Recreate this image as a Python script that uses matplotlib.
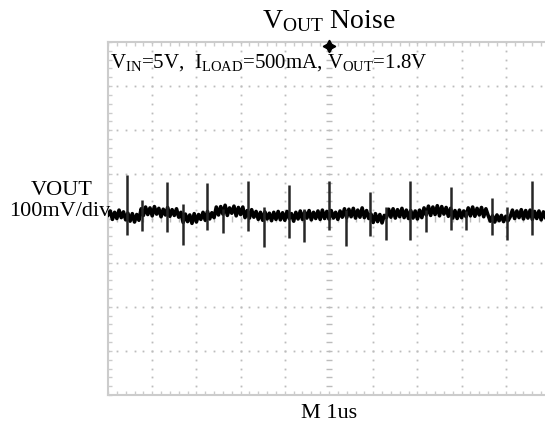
import numpy as np
import matplotlib
matplotlib.use("Agg")
import matplotlib.pyplot as plt

plt.rcParams["font.family"] = ["Liberation Serif", "DejaVu Serif"]
plt.rcParams["mathtext.fontset"] = "custom"
plt.rcParams["mathtext.rm"] = "Liberation Serif"
plt.rcParams["mathtext.it"] = "Liberation Serif:italic"

# scope trace, 1 sample per 0.05 us, values in mV (100 mV/div)
T_STEP_US = 0.05
TRACE_MV = [
    8, 17, -2, 14, 0, 19, 2, 15, -3, 12,
    -6, 11, -8, 9, -4, 22, 7, 26, 9, 24,
    6, 27, 10, 23, 4, 21, 8, 25, 5, 20,
    7, 22, 3, 14, -9, 10, -7, 8, -11, 11,
    -8, 9, -2, 14, -4, 16, -1, 13, 2, 26,
    8, 27, 10, 30, 7, 24, 12, 28, 6, 25,
    9, 26, 2, 18, 1, 20, 3, 16, -2, 14,
    -4, 15, -1, 12, -5, 14, -2, 16, -3, 13,
    -4, 16, 0, 11, -6, 14, -1, 17, -2, 15,
    1, 18, -3, 14, 0, 17, -2, 19, 0, 16,
    -1, 18, 1, 14, -2, 17, 3, 22, 2, 21,
    4, 23, 1, 19, 3, 24, 2, 18, 0, 10,
    -9, 11, -7, 9, -10, 7, 2, 21, 3, 22,
    1, 20, 4, 23, 2, 19, 0, 18, 1, 17,
    -1, 19, 2, 24, 8, 28, 7, 26, 9, 29,
    6, 27, 10, 25, 5, 23, 1, 18, 0, 19,
    2, 17, 4, 24, 6, 26, 5, 23, 8, 25,
    4, 22, 7, -6, 6, -8, 8, -5, 7, -7,
    5, -5, 4, 19, 0, 17, 2, 20, -1, 18,
    1, 19, -2, 16, 0, 17, -3, 15, 1, 14,
]

# switching spikes (time in us, extents in mV)
UP_T = [0.43, 1.33, 2.24, 3.17, 4.10, 5.00, 5.93, 6.83, 7.76, 8.69, 9.59]
UP_TOP = [99, 83, 80, 85, 76, 85, 60, 85, 71, 46, 85]
UP_BOT = [-37, -31, -26, -28, -44, -26, -40, -49, -26, -37, -37]
DN_T = [0.77, 1.70, 2.60, 3.53, 4.43, 5.38, 6.29, 7.19, 8.10, 9.03]
DN_TOP = [42, 33, 22, 25, 22, 20, 25, 20, 18, 25]
DN_BOT = [-28, -60, -33, -65, -53, -62, -49, -31, -26, -49]

GRID_COL = "#bcbcbc"
FRAME_COL = "#cccccc"

fig = plt.figure(figsize=(5.45, 4.31), dpi=100)
ax = fig.add_axes([108 / 545, 35 / 431, 442 / 545, 353 / 431])
ax.set_xlim(0, 10)
ax.set_ylim(-4, 4)

# frame + inward ticks every 0.2 div
for sp in ax.spines.values():
    sp.set_color(FRAME_COL)
    sp.set_linewidth(1.5)
ax.set_xticks(np.arange(0, 10.01, 0.2))
ax.set_yticks(np.arange(-4, 4.01, 0.2))
ax.tick_params(direction="in", length=3, width=1, color=FRAME_COL,
               top=True, right=True, labelbottom=False, labelleft=False)

# dotted graticule
minor = np.arange(0, 10.01, 0.2)
minor_y = np.arange(-4, 4.01, 0.2)
for gx in range(1, 10):
    if gx == 5:
        continue
    ax.plot(np.full_like(minor_y, gx), minor_y, ls="none", marker="s",
            ms=1.3, color=GRID_COL, mew=0)
for gy in range(-3, 4):
    if gy == 0:
        continue
    ax.plot(minor, np.full_like(minor, gy), ls="none", marker="s",
            ms=1.3, color=GRID_COL, mew=0)
# center cross with little dashes
ax.plot(np.full_like(minor_y, 5), minor_y, ls="none", marker="_", ms=5,
        mew=1.0, color=GRID_COL)
ax.plot(minor, np.zeros_like(minor), ls="none", marker="|", ms=5,
        mew=1.0, color=GRID_COL)

# trace
t = np.arange(len(TRACE_MV)) * T_STEP_US
v = np.array(TRACE_MV) / 100.0
ax.plot(t, v, color="black", lw=2.6, zorder=5)
ax.vlines(UP_T, np.array(UP_BOT) / 100, np.array(UP_TOP) / 100,
          color="#262626", lw=1.8, zorder=6)
ax.vlines(DN_T, np.array(DN_BOT) / 100, np.array(DN_TOP) / 100,
          color="#262626", lw=1.8, zorder=6)

# trigger marker
ax.plot([5.0], [3.92], marker=(4, 1, 0), ms=9, color="black",
        clip_on=False, zorder=7)

ax.text(0.005, 0.946,
        r"V$_{\mathrm{IN}}$=5V,  I$_{\mathrm{LOAD}}$=500mA, V$_{\mathrm{OUT}}$=1.8V",
        transform=ax.transAxes, ha="left", va="center", fontsize=15, zorder=8)

fig.text(329 / 545, 1 - 21 / 431, r"V$_{\mathrm{OUT}}$ Noise",
         ha="center", va="center", fontsize=20)
fig.text(62 / 545, 1 - 191 / 431, "VOUT", ha="center", va="center", fontsize=16)
fig.text(60 / 545, 1 - 212 / 431, "100mV/div", ha="center", va="center",
         fontsize=16)
fig.text(329 / 545, 1 - 414 / 431, "M 1us", ha="center", va="center",
         fontsize=16)

fig.savefig("out.png", dpi=100)
